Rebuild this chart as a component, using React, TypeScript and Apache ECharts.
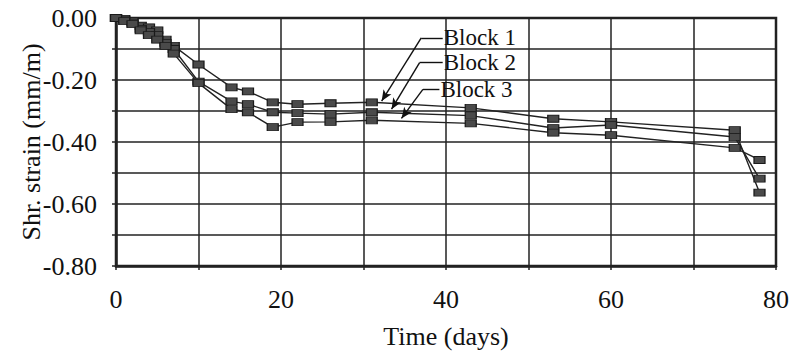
import React, { useEffect, useRef } from "react";
import * as echarts from "echarts";

const days = [0, 1, 2, 3, 4, 5, 6, 7, 10, 14, 16, 19, 22, 26, 31, 43, 53, 60, 75, 78];
const block1 = [0, -0.003, -0.01, -0.025, -0.03, -0.04, -0.07, -0.09, -0.15, -0.224, -0.237, -0.272, -0.278, -0.275, -0.272, -0.29, -0.325, -0.335, -0.362, -0.563];
const block2 = [0, -0.005, -0.015, -0.035, -0.045, -0.055, -0.08, -0.1, -0.205, -0.269, -0.278, -0.304, -0.307, -0.31, -0.304, -0.315, -0.355, -0.345, -0.384, -0.518];
const block3 = [0, -0.01, -0.02, -0.04, -0.055, -0.07, -0.09, -0.115, -0.21, -0.294, -0.304, -0.352, -0.336, -0.335, -0.33, -0.34, -0.37, -0.378, -0.419, -0.458];
const seriesNames = ["Block 1", "Block 2", "Block 3"];
const yTicks = [0, -0.2, -0.4, -0.6, -0.8];
const xTicks = [0, 20, 40, 60, 80];

// annotation anchors in data coordinates: [text pos, elbow, arrow tip]
const annot = [
  { text: "Block 1", start: [39.6, -0.064], elbow: [37.0, -0.064], tip: [32.2, -0.268] },
  { text: "Block 2", start: [39.6, -0.144], elbow: [36.8, -0.144], tip: [33.4, -0.294] },
  { text: "Block 3", start: [39.2, -0.23], elbow: [37.2, -0.23], tip: [34.6, -0.324] },
];

const FONT = "'Liberation Serif', 'Times New Roman', serif";
const FS = 26;
const FS_ANN = 23;

export default function App() {
  const ref = useRef<HTMLDivElement>(null);
  useEffect(() => {
    document.body.style.margin = "0";
    const chart = echarts.init(ref.current!, null, { renderer: "svg" });
    const all = [block1, block2, block3];
    const markData: any[] = [];
    annot.forEach((a) => {
      markData.push([{ coord: a.start, symbol: "none" }, { coord: a.elbow, symbol: "none" }]);
      markData.push([{ coord: a.elbow, symbol: "none" }, { coord: a.tip, symbol: "arrow", symbolSize: [7, 11] }]);
    });
    chart.setOption({
      animation: false,
      grid: { left: 116, right: 15, top: 18, bottom: 86, show: true, borderColor: "#222", borderWidth: 2.5, backgroundColor: "transparent" },
      xAxis: {
        type: "value",
        min: 0,
        max: 80,
        interval: 20,
        name: "Time (days)",
        nameLocation: "middle",
        nameGap: 57,
        nameMoveOverlap: false,
        nameTextStyle: { fontFamily: FONT, fontSize: FS, color: "#111" },
        axisLine: { show: true, onZero: false, lineStyle: { color: "#222", width: 2.5 } },
        axisTick: { show: true, length: 4, lineStyle: { color: "#222", width: 1.5 } },
        minorTick: { show: true, splitNumber: 2, length: 4, lineStyle: { color: "#222", width: 1.5 } },
        splitLine: { show: true, lineStyle: { color: "#222", width: 1.5 } },
        minorSplitLine: { show: true, lineStyle: { color: "#222", width: 1.5 } },
        axisLabel: {
          fontFamily: FONT, fontSize: FS, color: "#111", margin: 20,
          formatter: (v: number) => (xTicks.includes(v) ? String(v) : ""),
        },
      },
      yAxis: {
        type: "value",
        min: -0.8,
        max: 0,
        interval: 0.2,
        name: "Shr. strain (mm/m)",
        nameLocation: "middle",
        nameGap: 72,
        nameMoveOverlap: false,
        nameTextStyle: { fontFamily: FONT, fontSize: FS, color: "#111" },
        axisLine: { show: true, onZero: false, lineStyle: { color: "#222", width: 2.5 } },
        axisTick: { show: true, length: 4, lineStyle: { color: "#222", width: 1.5 } },
        minorTick: { show: true, splitNumber: 2, length: 4, lineStyle: { color: "#222", width: 1.5 } },
        splitLine: { show: true, lineStyle: { color: "#222", width: 1.5 } },
        minorSplitLine: { show: true, lineStyle: { color: "#222", width: 1.5 } },
        axisLabel: {
          fontFamily: FONT, fontSize: FS, color: "#111", margin: 19,
          formatter: (v: number) => {
            const hit = yTicks.find((t) => Math.abs(t - v) < 1e-6);
            return hit === undefined ? "" : v.toFixed(2).replace("-0.00", "0.00");
          },
        },
      },
      series: all.map((vals, i) => ({
        type: "line",
        name: seriesNames[i],
        data: days.map((d, j) => [d, vals[j]]),
        symbol: "rect",
        symbolSize: [11, 7],
        showSymbol: true,
        itemStyle: { color: "#4a4a4a", borderColor: "#1a1a1a", borderWidth: 1 },
        lineStyle: { color: "#222", width: 1.4 },
        z: 3,
        markLine:
          i === 0
            ? {
                silent: true,
                symbol: ["none", "none"],
                label: { show: false },
                lineStyle: { color: "#111", width: 1.4, type: "solid" },
                data: markData,
              }
            : undefined,
      })),
    });
    const texts = annot.map((a) => {
      const p = chart.convertToPixel({ gridIndex: 0 }, a.start) as number[];
      return {
        type: "text",
        x: p[0] + 1,
        y: p[1],
        style: { text: a.text, font: `${FS_ANN}px ${FONT}`, fill: "#111", verticalAlign: "middle", align: "left", lineHeight: FS_ANN },
        z: 10,
      };
    });
    chart.setOption({ graphic: texts });
    return () => chart.dispose();
  }, []);
  return <div ref={ref} style={{ position: "absolute", left: 0, top: 0, width: 792, height: 354 }} />;
}
